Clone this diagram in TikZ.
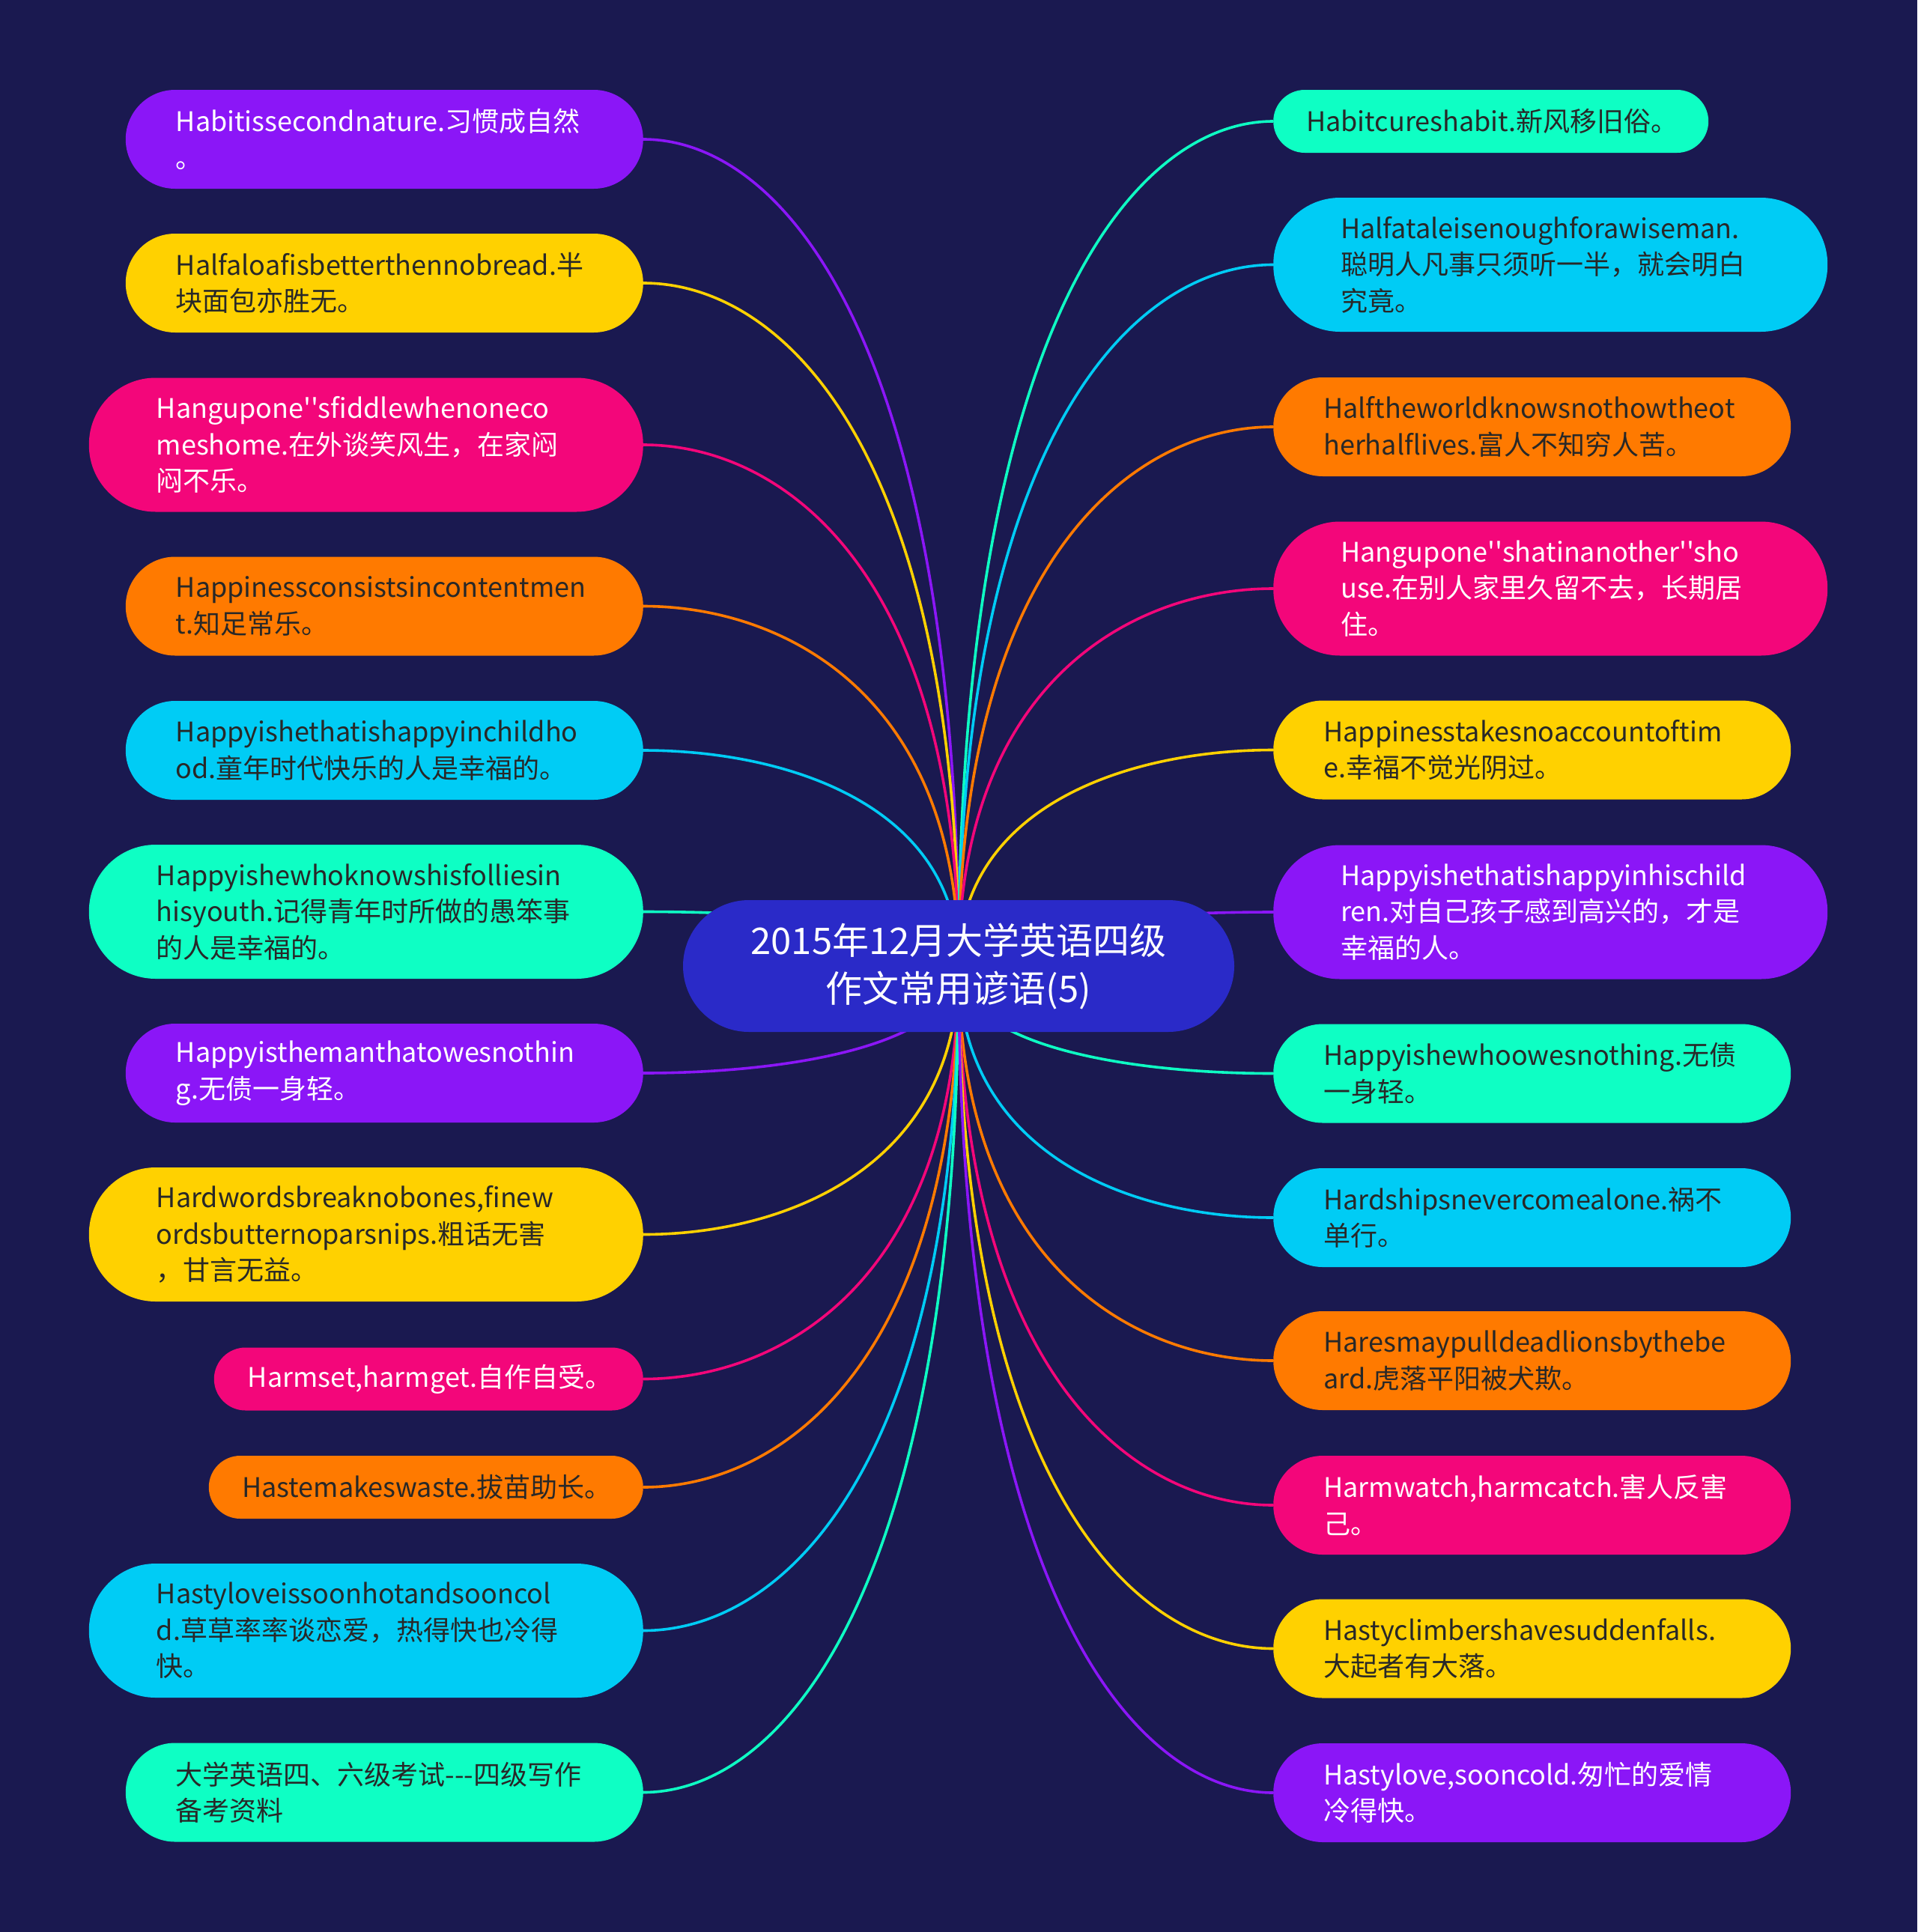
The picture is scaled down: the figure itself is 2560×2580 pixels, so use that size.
\documentclass[tikz,border=0pt]{standalone}
\usepackage{fontspec}
\newfontfamily\nf{Noto Sans CJK SC}
\usetikzlibrary{calc}
\definecolor{bgc}{RGB}{26,25,80}
\definecolor{cPur}{RGB}{139,22,247}
\definecolor{cYel}{RGB}{255,209,0}
\definecolor{cPin}{RGB}{243,6,122}
\definecolor{cOra}{RGB}{255,122,0}
\definecolor{cCya}{RGB}{0,204,245}
\definecolor{cGre}{RGB}{14,255,196}
\definecolor{cRoot}{RGB}{42,42,200}
\definecolor{dk}{RGB}{40,40,40}
\pgfdeclarelayer{back}
\pgfdeclarelayer{links}
\pgfsetlayers{back,links,main}
\newcommand\lnk[2]{\draw[link,#2] (root.center) .. controls ($(root.center)!0.75!(root.center |- #1)$) and ($(#1)!0.45!(#1 -| root.center)$) .. (#1);}
\begin{document}
\begin{tikzpicture}[x=1pt,y=-1pt,
  pill/.style={inner sep=0pt, align=left, font=\nf\fontsize{36pt}{48.5pt}\selectfont},
  hS/.style={minimum height=84pt, rounded corners=42pt},
  hM/.style={minimum height=132pt, rounded corners=66pt},
  hL/.style={minimum height=179pt, rounded corners=89pt},
  wA/.style={minimum width=691pt, text width=557pt},
  wB/.style={minimum width=740pt, text width=560pt},
  lt/.style={anchor=east},
  rt/.style={anchor=west},
  pur/.style={fill=cPur,text=white},
  pin/.style={fill=cPin,text=white},
  yel/.style={fill=cYel,text=dk},
  ora/.style={fill=cOra,text=dk},
  cya/.style={fill=cCya,text=dk},
  gre/.style={fill=cGre,text=dk},
  link/.style={line width=3.6pt},
  rootbox/.style={fill=cRoot,text=white,inner sep=0pt,align=center,
    minimum width=736pt,minimum height=176pt,rounded corners=88pt,
    font=\nf\fontsize{49pt}{64pt}\selectfont}
]
\begin{pgfonlayer}{back}
\fill[bgc] (0,0) rectangle (2560,2580);
\end{pgfonlayer}
\useasboundingbox (0,0) rectangle (2560,2580);

\node[rootbox] (root) at (1280,1290) {2015年12月大学英语四级\\作文常用谚语(5)};

% left column
\node[pill,wA,hM,pur,lt] (L1) at (859,186) {Habitissecondnature.习惯成自然\\。};
\node[pill,wA,hM,yel,lt] (L2) at (859,378) {Halfaloafisbetterthennobread.半\\块面包亦胜无。};
\node[pill,wB,hL,pin,lt] (L3) at (859,594) {Hangupone''sfiddlewhenoneco\\meshome.在外谈笑风生，在家闷\\闷不乐。};
\node[pill,wA,hM,ora,lt] (L4) at (859,809.5) {Happinessconsistsincontentmen\\t.知足常乐。};
\node[pill,wA,hM,cya,lt] (L5) at (859,1002) {Happyishethatishappyinchildho\\od.童年时代快乐的人是幸福的。};
\node[pill,wB,hL,gre,lt] (L6) at (859,1217.5) {Happyishewhoknowshisfolliesin\\hisyouth.记得青年时所做的愚笨事\\的人是幸福的。};
\node[pill,wA,hM,pur,lt] (L7) at (859,1433) {Happyisthemanthatowesnothin\\g.无债一身轻。};
\node[pill,wB,hL,yel,lt] (L8) at (859,1648.5) {Hardwordsbreaknobones,finew\\ordsbutternoparsnips.粗话无害\\，甘言无益。};
\node[pill,minimum width=573pt,text width=483pt,hS,pin,lt] (L9) at (859,1841.5) {Harmset,harmget.自作自受。};
\node[pill,minimum width=580pt,text width=491pt,hS,ora,lt] (L10) at (859,1986) {Hastemakeswaste.拔苗助长。};
\node[pill,wB,hL,cya,lt] (L11) at (859,2177.5) {Hastyloveissoonhotandsooncol\\d.草草率率谈恋爱，热得快也冷得\\快。};
\node[pill,wA,hM,gre,lt] (L12) at (859,2393.5) {大学英语四、六级考试---四级写作\\备考资料};

% right column
\node[pill,minimum width=581pt,text width=493pt,hS,gre,rt] (R1) at (1700,162) {Habitcureshabit.新风移旧俗。};
\node[pill,wB,hL,cya,rt] (R2) at (1700,353.5) {Halfataleisenoughforawiseman.\\聪明人凡事只须听一半，就会明白\\究竟。};
\node[pill,wA,hM,ora,rt] (R3) at (1700,570) {Halftheworldknowsnothowtheot\\herhalflives.富人不知穷人苦。};
\node[pill,wB,hL,pin,rt] (R4) at (1700,786) {Hangupone''shatinanother''sho\\use.在别人家里久留不去，长期居\\住。};
\node[pill,wA,hM,yel,rt] (R5) at (1700,1001.5) {Happinesstakesnoaccountoftim\\e.幸福不觉光阴过。};
\node[pill,wB,hL,pur,rt] (R6) at (1700,1218) {Happyishethatishappyinhischild\\ren.对自己孩子感到高兴的，才是\\幸福的人。};
\node[pill,wA,hM,gre,rt] (R7) at (1700,1433.5) {Happyishewhoowesnothing.无债\\一身轻。};
\node[pill,wA,hM,cya,rt] (R8) at (1700,1626) {Hardshipsnevercomealone.祸不\\单行。};
\node[pill,wA,hM,ora,rt] (R9) at (1700,1817) {Haresmaypulldeadlionsbythebe\\ard.虎落平阳被犬欺。};
\node[pill,wA,hM,pin,rt] (R10) at (1700,2010) {Harmwatch,harmcatch.害人反害\\己。};
\node[pill,wA,hM,yel,rt] (R11) at (1700,2201.5) {Hastyclimbershavesuddenfalls.\\大起者有大落。};
\node[pill,wA,hM,pur,rt] (R12) at (1700,2394) {Hastylove,sooncold.匆忙的爱情\\冷得快。};

\begin{pgfonlayer}{links}
\lnk{L1.east}{cPur}
\lnk{L2.east}{cYel}
\lnk{L3.east}{cPin}
\lnk{L4.east}{cOra}
\lnk{L5.east}{cCya}
\lnk{L6.east}{cGre}
\lnk{L7.east}{cPur}
\lnk{L8.east}{cYel}
\lnk{L9.east}{cPin}
\lnk{L10.east}{cOra}
\lnk{L11.east}{cCya}
\lnk{L12.east}{cGre}
\lnk{R1.west}{cGre}
\lnk{R2.west}{cCya}
\lnk{R3.west}{cOra}
\lnk{R4.west}{cPin}
\lnk{R5.west}{cYel}
\lnk{R6.west}{cPur}
\lnk{R7.west}{cGre}
\lnk{R8.west}{cCya}
\lnk{R9.west}{cOra}
\lnk{R10.west}{cPin}
\lnk{R11.west}{cYel}
\lnk{R12.west}{cPur}
\end{pgfonlayer}
\end{tikzpicture}
\end{document}
